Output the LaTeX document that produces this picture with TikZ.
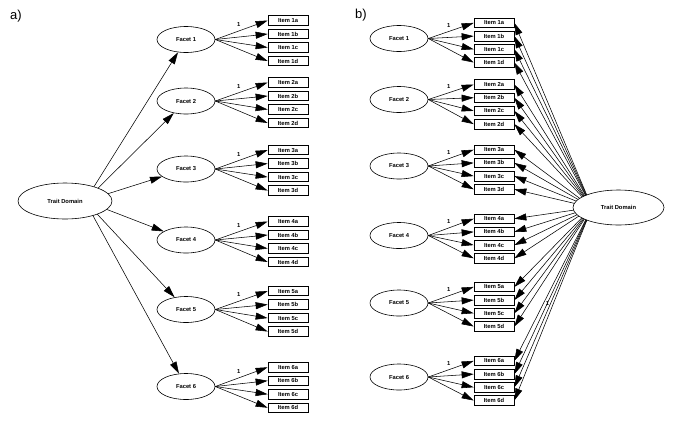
\documentclass[tikz,border=0pt]{standalone}
\usepackage{fontspec}
\setmainfont{Liberation Sans}
\usetikzlibrary{shapes.geometric,arrows.meta,intersections}
\begin{document}
\begin{tikzpicture}[x=1pt,y=-1pt,
  lat/.style={draw, ellipse, inner sep=0pt, line width=0.6pt, font=\fontsize{5.8}{6}\selectfont\bfseries},
  facet/.style={lat, minimum width=58pt, minimum height=26pt},
  itembox/.style={draw, rectangle, minimum width=40pt, minimum height=9.5pt, inner sep=0pt, line width=0.7pt, fill=white, font=\fontsize{5.8}{6}\selectfont\bfseries},
  arr/.style={-{Triangle[length=12pt,width=7pt]}, line width=0.55pt},
  lbl/.style={font=\fontsize{5.8}{6}\selectfont\bfseries, inner sep=1pt},
  panel/.style={font=\fontsize{13}{14}\selectfont, anchor=west, inner sep=0pt}
]
\useasboundingbox (0,0) rectangle (685,424);

\node[panel] (la) at (10,16) {a)};
\node[panel] (lb) at (355,15) {b)};

% ---------------- panel a ----------------
\node[lat, minimum width=94pt, minimum height=36pt] (TDa) at (65,201) {Trait Domain};
\path[name path=TaPath] (65,201) ellipse [x radius=47pt, y radius=18pt];
\coordinate (TaAim) at (85,201);

\foreach \i/\fy/\gy in {1/39.5/40.75, 2/101/102.75, 3/169/170.3, 4/240/241.75, 5/309.5/311.3, 6/386.5/387.5} {
  \node[facet] (Fa\i) at (186,\fy) {Facet \i};
  \foreach \l/\k in {a/0,b/1,c/2,d/3} {
    \node[itembox] (Ia\i\l) at (288,{\gy+(\k-1.5)*13.5}) {Item \i\l};
  }
}

\foreach \i in {1,...,6} {
  \path[name path=lnA] (TaAim) -- (Fa\i.center);
  \path[name intersections={of=TaPath and lnA, by={Pa\i}}];
  \draw[arr] (Pa\i) -- (Fa\i);
  \draw[arr] (Fa\i.east) -- (Ia\i a.west) node[lbl, pos=0.45, above=3pt] {1};
  \foreach \l in {b,c,d} {
    \draw[arr] (Fa\i.east) -- (Ia\i\l.west);
  }
}

% ---------------- panel b ----------------
\node[lat, minimum width=91pt, minimum height=35pt] (TDb) at (618.5,207.5) {Trait Domain};
\path[name path=TbPath] (618.5,207.5) ellipse [x radius=45.5pt, y radius=17.5pt];
\coordinate (TbAim) at (592,207.5);

\foreach \i/\fy/\gy in {1/38.5/42.7, 2/99.5/104.3, 3/166/169.5, 4/235.5/238.5, 5/303/306.7, 6/377/380.7} {
  \node[facet] (Fb\i) at (399,\fy) {Facet \i};
  \foreach \l/\k in {a/0,b/1,c/2,d/3} {
    \node[itembox] (Ib\i\l) at (494,{\gy+(\k-1.5)*13.2}) {Item \i\l};
  }
}

\foreach \i in {1,...,6} {
  \draw[arr] (Fb\i.east) -- (Ib\i a.west) node[lbl, pos=0.45, above=3pt] {1};
  \foreach \l in {b,c,d} {
    \draw[arr] (Fb\i.east) -- (Ib\i\l.west);
  }
  \foreach \l in {a,b,c,d} {
    \path[name path=lnB] (TbAim) -- (Ib\i\l.east);
    \path[name intersections={of=TbPath and lnB, by={Pb\i\l}}];
  }
}
\foreach \i in {1,...,5} {
  \foreach \l in {a,b,c,d} {
    \draw[arr] (Pb\i\l) -- (Ib\i\l.east);
  }
}
\draw[arr] (Pb6a) -- (Ib6a.east);
\draw[arr] (Pb6b) -- (Ib6b.east) node[lbl, pos=0.54] {1};
\draw[arr] (Pb6c) -- (Ib6c.east);
\draw[arr] (Pb6d) -- (Ib6d.east);
\end{tikzpicture}
\end{document}
